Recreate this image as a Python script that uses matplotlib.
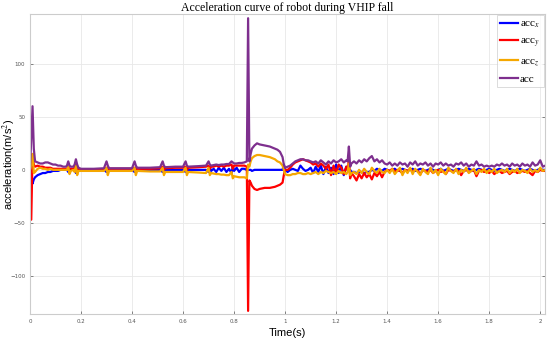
import numpy as np
import matplotlib
matplotlib.use("Agg")
from matplotlib import pyplot as plt

plt.rcParams['mathtext.fontset'] = 'stix'

# time (s)
t = [0, 0.005, 0.01, 0.015, 0.02, 0.03, 0.04, 0.05, 0.06, 0.07, 0.08, 0.09, 0.10,
     0.11, 0.12, 0.13, 0.14, 0.145, 0.15, 0.155, 0.16, 0.17, 0.175, 0.18, 0.185, 0.19,
     0.20, 0.25, 0.29, 0.30, 0.305, 0.31, 0.35, 0.40, 0.41, 0.415, 0.42, 0.47, 0.51,
     0.52, 0.525, 0.53, 0.57, 0.60, 0.61, 0.615, 0.62, 0.66, 0.69, 0.70, 0.705, 0.71,
     0.72, 0.73, 0.74, 0.75, 0.76, 0.77, 0.78, 0.79, 0.795, 0.80, 0.81, 0.82, 0.83,
     0.84, 0.85, 0.855, 0.86, 0.865, 0.87, 0.88, 0.89, 0.90, 0.92, 0.94, 0.96, 0.97,
     0.98, 0.99, 0.995, 1.00,
     1.01, 1.02, 1.03, 1.04, 1.05, 1.06, 1.07, 1.08, 1.09, 1.10, 1.11, 1.12, 1.13,
     1.14, 1.15, 1.16, 1.17, 1.18, 1.19, 1.20, 1.21, 1.22, 1.23, 1.24, 1.245, 1.25,
     1.255, 1.26,
     1.27, 1.28, 1.29, 1.30, 1.31, 1.32, 1.33, 1.34, 1.35, 1.36, 1.37, 1.38, 1.39,
     1.40, 1.41, 1.42, 1.43, 1.44, 1.45, 1.46, 1.47, 1.48, 1.49, 1.50, 1.51, 1.52,
     1.53, 1.54, 1.55, 1.56, 1.57, 1.58, 1.59, 1.60, 1.61, 1.62, 1.63, 1.64, 1.65,
     1.66, 1.67, 1.68, 1.69, 1.70, 1.71, 1.72, 1.73, 1.74, 1.75, 1.76, 1.77, 1.78,
     1.79, 1.80, 1.81, 1.82, 1.83, 1.84, 1.85, 1.86, 1.87, 1.88, 1.89, 1.90, 1.91,
     1.92, 1.93, 1.94, 1.95, 1.96, 1.97, 1.98, 1.99, 2.00, 2.01, 2.02]

acc_x = [0, -5, -13, -9, -7, -5, -4, -3, -3, -2, -2, -1, -1,
         -1, 0, 0, 0, 0, -2, 0, 0, 0, 0, -3, 0, 0,
         0, 0, 0, -2, 2, 0, 0, 0, -2, 2, 0, 0, 0,
         -2, 2, 0, 0, 0, -2, 2, 0, 0, 0, -2, 2, -1,
         1, -2, 2, -1, 2, -2, 1, -3, 3, -1, 2, -2, 1,
         1, 0, 0, 0, 0, -1, 0, 0, 0, 0, 0, 0, 0,
         0, 0, 5, 0,
         -2, 0, 1, 0, -1, 4, 1, -1, 0, 2, -3, 3, -2,
         4, -4, 3, -3, 2, -4, 5, -3, 4, -5, 3, 0, 1,
         0, -2,
         -2, -3, -2, -2, -3, -2, -2, 0, -1, 1, 0, -1, 1,
         0, -1, 0, 1, -1, 0, 1, 0, -1, 0, 1, -1, 0,
         1, 0, -1, 0, 1, 0, -1, 0, 1, -1, 0, 1, 0,
         -1, 0, 1, 0, -1, 0, 1, 0, -1, 0, 1, 0, -1,
         0, 1, 0, -1, 0, 1, 0, -1, 0, 1, 0, -1, 0,
         1, 0, -1, 0, 1, 0, -1, 0, 1, 0, 0]

acc_y = [0, -47, 15, 5, 3, 4, 3, 3, 2, 2, 2, 1, 1,
         1, 1, 1, 1, 1, 3, 1, 1, 1, 2, 5, 1, 1,
         0.5, 0.5, 0.5, 2, -1, 1, 1, 1, 2, -1, 1, 1, 1.5,
         3, 0, 1.5, 2, 2, 3, 0, 2, 2.5, 3, 4, 1, 3,
         3, 4, 3, 4, 3, 4, 4, 5, 1, 4, 4, 4, 4,
         4, 3, -133, -10, -12, -15, -18, -19, -18, -17, -17, -16, -15,
         -14, -12, -5, 0,
         0, 2, 5, 7, 8, 9, 10, 9, 8, 7, 5, 6, 3,
         6, 4, 1, 5, -5, 4, -3, 5, 2, -4, 3, 0, 8,
         -8, -3,
         -6, -10, -4, -8, -3, -7, -4, -9, -3, -6, -2, -7, -2,
         0, -1, 1, -2, 0, -1, -3, 0, -1, 1, -2, 0, -1,
         -4, 0, -1, -2, 0, -3, -1, 0, -2, -1, -4, 0, -1,
         -2, 0, -1, -5, -1, 0, -2, -1, 0, -6, -1, 0, -2,
         -1, -3, -1, -4, -2, -1, -3, -2, -1, -4, -2, -1, -3,
         -2, -1, -2, -1, -3, -5, -1, -2, 0, -1, -1]

acc_z = [0, 5, 15, -3, -2, 1, 2, 1, 1, 0, 1, 0, 0,
         0, 0, 0, 0, 0, 3, -4, -1, 0, -2, 4, -5, -1,
         -1, -1, -1, 2, -5, -1, -1, -1, 2, -5, -1, -1.5, -1.5,
         2, -5, -2, -2, -2, 2, -5, -2, -2.5, -3, 2, -5, -3,
         -3.5, -4, -4, -4.5, -4.5, -5, -5, -2, -8, -6, -6.5, -7, -7,
         -7, -8, 5, 3, 8, 11, 13, 14, 14, 13, 12, 10, 8,
         7, 4, 0, -4,
         -5, -5, -4, -4, -3, -3, -4, -4, -3, -4, -3, -2, -4,
         -2, -3, -1, -2, -3, -2, -4, -1, -3, -2, -4, -2, 6,
         -5, -3,
         -2, -4, 0, -3, 1, -2, -4, 2, -1, -3, 1, -2, -3,
         0, -3, 1, -4, -1, 2, -5, 0, -3, 2, -4, 1, -2,
         -5, 1, -2, -4, 2, -3, 0, -5, 1, -2, -4, 2, -1,
         -3, 1, -4, 0, -2, 2, -3, -1, 1, -4, 0, -2, 1,
         -3, 0, -2, 1, -3, -1, 0, -2, 1, -3, 0, -2, 1,
         -3, 0, -1, -3, 1, -2, 0, -2, 2, -1, 0]

acc = [0, 30, 60, 20, 8, 7, 6, 6, 7, 7, 6, 5, 5,
       4, 4, 3, 3, 4, 8, 4, 3, 3, 5, 10, 5, 2,
       1, 1, 1.5, 8, 4, 1.5, 1.5, 1.5, 8, 4, 2, 2, 2.5,
       8, 4, 2.5, 3, 3, 8, 4, 3, 3.5, 4, 8, 5, 4,
       4.5, 5, 4.5, 5, 5, 5.5, 5.5, 8, 7, 6, 6, 6.5, 6.5,
       7, 8, 143, 8, 15, 20, 23, 25, 24, 23, 22, 20, 19,
       17, 12, 5, 2,
       3, 4, 6, 8, 9, 10, 10, 9, 9, 8, 7, 8, 6,
       9, 7, 5, 8, 6, 9, 7, 8, 10, 7, 9, 8, 22,
       3, 6,
       8, 6, 9, 7, 10, 8, 11, 13, 8, 10, 7, 9, 6,
       5, 7, 4, 6, 4, 7, 5, 6, 3, 7, 5, 8, 4,
       6, 5, 7, 4, 6, 3, 6, 5, 7, 4, 6, 4, 5,
       3, 6, 5, 7, 4, 6, 3, 5, 4, 8, 4, 5, 3,
       4, 3, 4, 3, 5, 4, 6, 4, 5, 3, 6, 4, 5,
       3, 6, 4, 5, 3, 7, 4, 5, 9, 3, 4]

labels = ['acc$_x$', 'acc$_y$', 'acc$_z$', 'acc']
colors = ['#0000ff', '#ff0000', '#f5a700', '#7e2f8e']

fig = plt.figure(figsize=(5.5, 3.41), dpi=100)
ax = fig.add_axes([0.0545, 0.079, 0.937, 0.88])

for y, lab, c in zip([acc_x, acc_y, acc_z, acc], labels, colors):
    ax.plot(t, y, color=c, lw=1.6, label=lab)

ax.set_xlim(0, 2.02)
ax.set_ylim(-136, 147)
ax.set_xticks([0, 0.2, 0.4, 0.6, 0.8, 1, 1.2, 1.4, 1.6, 1.8, 2])
ax.set_xticklabels(['0', '0.2', '0.4', '0.6', '0.8', '1', '1.2', '1.4', '1.6', '1.8', '2'])
ax.set_yticks([-100, -50, 0, 50, 100])
ax.grid(True, color='#e8e8e8', lw=0.6)
ax.tick_params(labelsize=4, colors='#555555', direction='in', length=2, width=0.5,
               top=False, right=True)
for s in ax.spines.values():
    s.set_color('#cccccc')
    s.set_linewidth(0.8)

ax.set_title('Acceleration curve of robot during VHIP fall', family='Liberation Serif',
             fontsize=8.5, pad=1.5)
ax.set_xlabel('Time(s)', family='Liberation Sans', fontsize=8, labelpad=3)
ax.set_ylabel('acceleration(m/s$^2$)', family='Liberation Sans', fontsize=8,
              va='center')
ax.yaxis.set_label_coords(-0.04, 0.5)

leg = ax.legend(loc='upper right', prop={'family': 'Liberation Serif', 'size': 8},
                fancybox=False, edgecolor='#cccccc', handlelength=1.6,
                borderaxespad=0.1, labelspacing=0.55, handletextpad=0.15,
                borderpad=0.35)
leg.get_frame().set_linewidth(0.6)

plt.savefig('out.png', dpi=100)
